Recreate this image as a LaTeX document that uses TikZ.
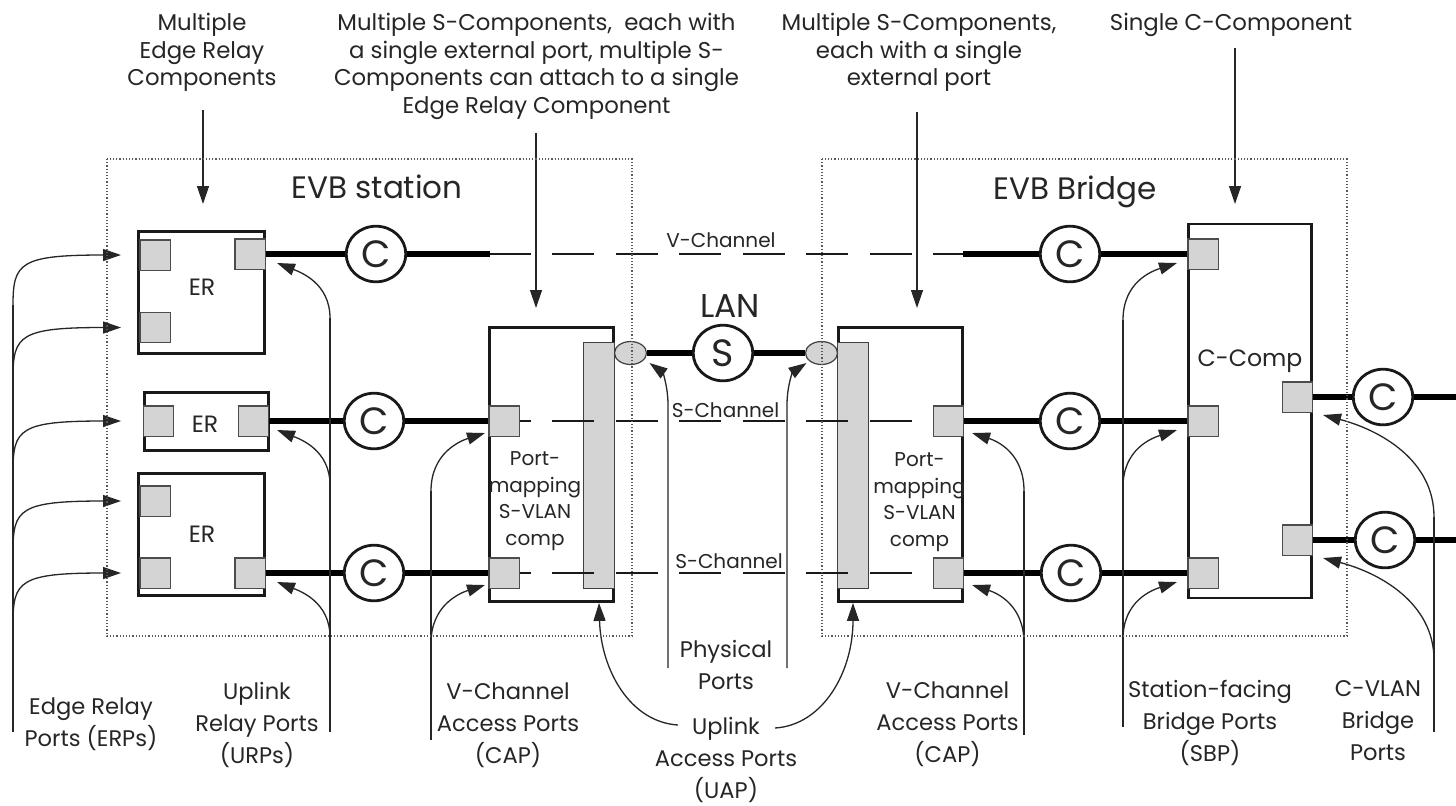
\documentclass[tikz,border=0pt]{standalone}
\usepackage{fontspec}
\setmainfont{Poppins}
\usetikzlibrary{arrows.meta,shapes.geometric,calc}
\tikzset{
 txt/.style={text=black!85, inner sep=0pt, outer sep=0pt},
 lbl/.style={txt, align=center, anchor=north, font=\fontsize{11.3pt}{16pt}\selectfont},
 toplbl/.style={lbl, font=\fontsize{11.4pt}{13.75pt}\selectfont},
 small/.style={txt, anchor=base, font=\fontsize{10pt}{12pt}\selectfont},
 mid/.style={txt, anchor=base, font=\fontsize{11.8pt}{13pt}\selectfont},
 comp/.style={draw=black!90, fill=white, line width=1.4pt, inner sep=0pt},
 port/.style={draw=black!70, fill=black!17, line width=0.7pt, minimum size=15.2pt, inner sep=0pt},
 sbar/.style={draw=black!75, fill=black!17, line width=0.6pt, minimum width=15.5pt, minimum height=123pt, inner sep=0pt},
 chan/.style={ellipse, draw=black!90, fill=white, line width=1.4pt, minimum width=29.8pt, minimum height=27.8pt, inner sep=0pt, text=black!85, font=\fontsize{19pt}{19pt}\selectfont},
 phys/.style={ellipse, draw=black!75, fill=black!17, line width=0.6pt, minimum width=16pt, minimum height=11.5pt, inner sep=0pt},
 link/.style={draw=black, line width=2.7pt},
 dlink/.style={draw=black!90, line width=1pt, dash pattern=on 21pt off 10.75pt},
 ln/.style={draw=black!85, line width=0.65pt},
 ptr/.style={ln, -{Triangle[length=9pt,width=6pt]}},
 evb/.style={draw=black!65, line width=0.6pt, densely dotted},
}
\begin{document}
\begin{tikzpicture}[x=0.5pt,y=-0.5pt]
\fill[white] (0,0) rectangle (1456,805);
\useasboundingbox (0,0) rectangle (1456,805);

% ---------- component boxes ----------
\node[comp, minimum width=63pt, minimum height=61pt] (er1) at (201.5,292.5) {};
\node[comp, minimum width=62pt, minimum height=29pt] (er2) at (206.5,421.5) {};
\node[comp, minimum width=63pt, minimum height=61pt] (er3) at (201.5,534.5) {};
\node[comp, minimum width=62pt, minimum height=137pt] (sl) at (551.5,464.5) {};
\node[comp, minimum width=62pt, minimum height=137pt] (sr) at (900.5,464.5) {};
\node[comp, line width=1.2pt, minimum width=61.5pt, minimum height=187pt] (cc) at (1250,411) {};
\node[sbar] (bl) at (599,465.5) {};
\node[sbar] (br) at (853,465.5) {};

% ---------- ports ----------
\node[port] (er1a) at (155,255) {};
\node[port] (er1b) at (155,327.5) {};
\node[port] (er1c) at (250,254) {};
\node[port] (er2a) at (158.5,421) {};
\node[port] (er2b) at (253.5,421) {};
\node[port] (er3a) at (155,501) {};
\node[port] (er3b) at (155,573) {};
\node[port] (er3c) at (250,573) {};
\node[port] (sl1) at (504,421) {};
\node[port] (sl2) at (504,573) {};
\node[port] (sr1) at (948.5,421) {};
\node[port] (sr2) at (948.5,573) {};
\node[port] (cc1) at (1203,254) {};
\node[port] (cc2) at (1203,421) {};
\node[port] (cc3) at (1203,573) {};
\node[port] (cc4) at (1297.5,397) {};
\node[port] (cc5) at (1297.5,540) {};

% ---------- channel circles ----------
\node[chan] (c1) at (376,254) {C};
\node[chan] (c2) at (374,421) {C};
\node[chan] (c3) at (374,573) {C};
\node[chan] (c4) at (1070,254) {C};
\node[chan] (c5) at (1070,421) {C};
\node[chan] (c6) at (1071,573) {C};
\node[chan] (c7) at (1383,397) {C};
\node[chan] (c8) at (1385,540) {C};
\node[chan] (s) at (723,353) {S};
\node[phys] (e1) at (630.5,353) {};
\node[phys] (e2) at (821.5,353) {};

\coordinate (v1) at (490,254);
\coordinate (v2) at (963,254);
\coordinate (r1) at (1456,397);
\coordinate (r2) at (1456,540);

% ---------- links ----------
\draw[link] (er1c.east) -- (c1.west);
\draw[link] (c1.east) -- (v1);
\draw[dlink, dash phase=0.75pt] (v1) -- (v2);
\draw[link] (v2) -- (c4.west);
\draw[link] (c4.east) -- (cc1.west);

\draw[link] (er2b.east) -- (c2.west);
\draw[link] (c2.east) -- (sl1.west);
\draw[dlink, dash phase=15.7pt] (sl1.east) -- (sr1.west);
\draw[link] (sr1.east) -- (c5.west);
\draw[link] (c5.east) -- (cc2.west);

\draw[link] (er3c.east) -- (c3.west);
\draw[link] (c3.east) -- (sl2.west);
\draw[dlink, dash phase=15.7pt] (sl2.east) -- (sr2.west);
\draw[link] (sr2.east) -- (c6.west);
\draw[link] (c6.east) -- (cc3.west);

\draw[link] (e1.east) -- (s.west);
\draw[link] (s.east) -- (e2.west);

\draw[link] (cc4.east) -- (c7.west);
\draw[link] (c7.east) -- (r1);
\draw[link] (cc5.east) -- (c8.west);
\draw[link] (c8.east) -- (r2);

% ---------- pointer columns ----------
\coordinate (xerp) at (13,0);    \coordinate (xerpt) at (121,0);
\coordinate (xurp) at (330,0);   \coordinate (xurpt) at (277,0);
\coordinate (xcapl) at (431,0);  \coordinate (xcaplt) at (485,0);
\coordinate (xcapr) at (1024,0); \coordinate (xcaprt) at (972,0);
\coordinate (xsbp) at (1123,0);  \coordinate (xsbpt) at (1177,0);
\coordinate (xcvl) at (1434,0);  \coordinate (xcvlt) at (1323,0);

% top pointers
\draw[ptr] (203,110) -- (203,204);
\draw[ptr] (536,133) -- (536,308);
\draw[ptr] (917,112) -- (917,308);
\draw[ptr] (1235,48) -- (1235,204);

% Edge relay ports
\draw[ln] (13,732) -- ($(er1a -| xerp)+(0,50)$);
\foreach \pp in {er1a,er1b,er2a,er3a,er3b}
  \draw[ptr] ($(\pp -| xerp)+(0,50)$) .. controls +(0,-42) and +(-101,0) .. (\pp -| xerpt);

% Uplink relay ports
\draw[ln] (330,732) -- ($(er1c -| xurp)+(0,64)$);
\foreach \pp in {er1c,er2b,er3c}
  \draw[ptr] ($(\pp -| xurp)+(0,64)$) .. controls +(0,-35) and +(23,9) .. ($(\pp -| xurpt)+(0,9)$);

% V-Channel access ports (station)
\draw[ln] (431,740) -- ($(sl1 -| xcapl)+(0,70)$);
\foreach \pp in {sl1,sl2}
  \draw[ptr] ($(\pp -| xcapl)+(0,70)$) .. controls +(0,-38) and +(-25,8) .. ($(\pp -| xcaplt)+(0,12)$);

% V-Channel access ports (bridge)
\draw[ln] (1024,735) -- ($(sr1 -| xcapr)+(0,70)$);
\foreach \pp in {sr1,sr2}
  \draw[ptr] ($(\pp -| xcapr)+(0,70)$) .. controls +(0,-38) and +(25,8) .. ($(\pp -| xcaprt)+(0,12)$);

% Station-facing bridge ports
\draw[ln] (1123,727) -- ($(cc1 -| xsbp)+(0,66)$);
\foreach \pp in {cc1,cc2,cc3}
  \draw[ptr] ($(\pp -| xsbp)+(0,66)$) .. controls +(0,-38) and +(-25,8) .. ($(\pp -| xsbpt)+(0,9)$);

% C-VLAN bridge ports
\draw[ln] (1434,732) -- ($(cc4 -| xcvl)+(0,120)$);
\foreach \pp in {cc4,cc5}
  \draw[ptr] ($(\pp -| xcvl)+(0,120)$) .. controls +(0,-57) and +(57,15) .. ($(\pp -| xcvlt)+(0,18)$);

% Physical ports
\draw[ptr] (668,668) -- (668,405) .. controls (668,385) and (662,372) .. ($(e1)+(19,10)$);
\draw[ptr] (787,668) -- (787,405) .. controls (787,385) and (793,372) .. ($(e2)+(-15,10)$);

% Uplink access ports
\draw[ptr] (678,725) .. controls (630,722) and (601,670) .. (sl.south -| bl.south);
\draw[ptr] (775,728) .. controls (823,725) and (853,672) .. (sr.south -| br.south);

% ---------- EVB outlines ----------
\draw[evb] (107,159) rectangle (632,636);
\draw[evb] (822,159) rectangle (1347,636);

% ---------- texts ----------
\node[txt, anchor=base, font=\fontsize{15.5pt}{17pt}\selectfont] (tst) at (377,198) {EVB station};
\node[txt, anchor=base, font=\fontsize{15.5pt}{17pt}\selectfont] (tbr) at (1075,199) {EVB Bridge};
\node[txt, anchor=base, font=\fontsize{16.5pt}{18pt}\selectfont] (lan) at (730,317) {LAN};
\node[small] (vch) at (721,247) {V-Channel};
\node[small] (sch1) at (725.5,417) {S-Channel};
\node[small] (sch2) at (729,568) {S-Channel};
\node[mid] (er1t) at (202,295) {ER};
\node[mid] (er2t) at (205,432) {ER};
\node[mid] (er3t) at (202,542) {ER};
\node[mid] (cct) at (1250,366) {C-Comp};
\node[txt, align=center, anchor=north, font=\fontsize{10pt}{13.35pt}\selectfont] (slt) at (535,451.5) {Port-\\mapping\\S-VLAN\\comp};
\node[txt, align=center, anchor=north, font=\fontsize{10pt}{13.35pt}\selectfont] (srt) at (919.5,452.5) {Port-\\mapping\\S-VLAN\\comp};

\node[toplbl] (lab1) at (202,13.5) {Multiple\\Edge Relay\\Components};
\node[toplbl] (lab2) at (536.5,13.5) {Multiple S-Components,\ \ each with\\a single external port, multiple S-\\Components can attach to a single\\Edge Relay Component};
\node[toplbl] (lab3) at (919,13.5) {Multiple S-Components,\\each with a single\\external port};
\node[toplbl] (lab4) at (1231,13.5) {Single C-Component};

\node[lbl] (berp) at (91,697.5) {Edge Relay\\Ports (ERPs)};
\node[lbl] (burp) at (257,682.5) {Uplink\\Relay Ports\\(URPs)};
\node[lbl] (bcapl) at (508,682.5) {V-Channel\\Access Ports\\(CAP)};
\node[lbl] (bphy) at (726,640.5) {Physical\\Ports};
\node[lbl] (buap) at (726,717.5) {Uplink\\Access Ports\\(UAP)};
\node[lbl] (bcapr) at (947.5,681.5) {V-Channel\\Access Ports\\(CAP)};
\node[lbl] (bsbp) at (1210,680.5) {Station-facing\\Bridge Ports\\(SBP)};
\node[lbl] (bcvl) at (1378,680.5) {C-VLAN\\Bridge\\Ports};
\end{tikzpicture}
\end{document}
